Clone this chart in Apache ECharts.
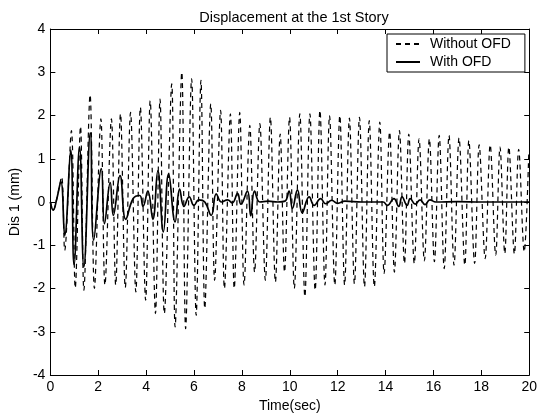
<!DOCTYPE html>
<html>
<head>
<meta charset="utf-8">
<script src="https://cdn.jsdelivr.net/npm/echarts@6/dist/echarts.min.js"></script>
<style>
  html, body { margin: 0; padding: 0; background: #fff; }
  #chart { width: 540px; height: 418px; }
</style>
</head>
<body>
<div id="chart"></div>
<script>
// ---- Data ----
const titleText = 'Displacement at the 1st Story';
const xTitle = 'Time(sec)';
const yTitle = 'Dis 1 (mm)';
const seriesNames = ['Without OFD', 'With OFD'];

// Without OFD (dashed): time (s) of successive peaks / troughs and their displacement (mm)
const timeWithout = [0, 0.12, 0.26, 0.47, 0.60, 0.88, 1.04, 1.26, 1.40, 1.66, 1.84, 2.11, 2.28, 2.55, 2.73, 2.93, 3.13, 3.35, 3.57, 3.76, 3.98, 4.17, 4.39, 4.58, 4.76, 5.07, 5.21, 5.49, 5.65, 5.90, 6.09, 6.29, 6.45, 6.70, 6.86, 7.11, 7.27, 7.52, 7.68, 7.91, 8.09, 8.33, 8.53, 8.75, 8.98, 9.19, 9.40, 9.60, 9.78, 9.99, 10.19, 10.42, 10.63, 10.84, 11.06, 11.26, 11.47, 11.66, 11.88, 12.09, 12.29, 12.49, 12.70, 12.91, 13.12, 13.32, 13.53, 13.76, 13.94, 14.17, 14.37, 14.58, 14.79, 14.97, 15.20, 15.40, 15.62, 15.83, 16.04, 16.24, 16.45, 16.65, 16.86, 17.07, 17.31, 17.48, 17.72, 17.91, 18.16, 18.37, 18.60, 18.78, 18.98, 19.15, 19.38, 19.56, 19.79, 19.98];
const dispWithout = [0, -0.19, 0.05, 0.58, -1.12, 1.65, -1.99, 1.75, -2.04, 2.48, -2.0, 1.92, -1.92, 1.92, -1.92, 2.04, -1.98, 2.07, -2.08, 2.19, -2.27, 2.34, -2.58, 2.38, -2.58, 2.73, -2.89, 3.0, -2.93, 2.85, -2.62, 2.81, -2.46, 2.27, -1.81, 2.12, -2.0, 2.04, -2.0, 2.07, -1.92, 1.77, -1.62, 1.81, -1.81, 1.96, -1.85, 1.57, -1.62, 1.96, -2.0, 2.04, -2.19, 2.04, -2.04, 2.12, -1.92, 2.0, -1.92, 2.0, -1.92, 1.94, -1.89, 1.96, -1.96, 1.88, -1.96, 1.85, -1.65, 1.62, -1.62, 1.65, -1.42, 1.57, -1.42, 1.46, -1.36, 1.46, -1.38, 1.54, -1.54, 1.54, -1.46, 1.48, -1.46, 1.42, -1.42, 1.32, -1.31, 1.32, -1.23, 1.27, -1.19, 1.27, -1.2, 1.22, -1.15, 1.1];

// With OFD (solid)
const timeWith = [0, 0.12, 0.26, 0.44, 0.60, 0.85, 0.99, 1.22, 1.40, 1.67, 1.81, 2.13, 2.26, 2.50, 2.63, 2.91, 3.15, 3.46, 3.73, 3.87, 4.07, 4.28, 4.49, 4.72, 4.94, 5.21, 5.40, 5.58, 5.80, 6.00, 6.20, 6.45, 6.72, 6.93, 7.15, 7.40, 7.60, 7.82, 7.96, 8.23, 8.37, 8.53, 8.75, 9.10, 9.50, 9.80, 9.97, 10.11, 10.32, 10.52, 10.81, 11.02, 11.29, 11.50, 11.75, 12.00, 12.30, 13.00, 13.90, 14.07, 14.35, 14.55, 14.69, 14.90, 15.03, 15.24, 15.44, 15.65, 15.85, 16.10, 17.00, 18.00, 19.00, 20.00];
const dispWith = [0, -0.19, 0.05, 0.47, -0.77, 1.2, -1.45, 1.27, -1.5, 1.6, -0.88, 0.77, -0.5, 0.45, -0.31, 0.61, -0.4, 0.08, 0.15, -0.1, 0.25, -0.4, 0.72, -0.69, 0.65, -0.46, 0.3, -0.1, 0.12, -0.08, 0.05, 0.0, -0.31, 0.19, 0.0, 0.05, -0.02, 0.2, -0.05, 0.25, -0.32, 0.25, 0.0, 0.02, 0.0, 0.02, 0.25, -0.15, 0.28, -0.25, 0.12, -0.08, 0.08, -0.04, 0.04, -0.03, 0.02, 0.0, 0.0, -0.08, 0.08, -0.1, 0.12, -0.08, 0.08, -0.05, 0.05, -0.06, 0.05, 0.0, 0.01, 0.0, 0.0, 0.0];

// Axis settings
const xMin = 0, xMax = 20, xStep = 2;
const yMin = -4, yMax = 4, yStep = 1;

// ---- Chart ----
const FONT = '"Liberation Sans", Arial, Helvetica, sans-serif';
const chart = echarts.init(document.getElementById('chart'), null, { renderer: 'canvas' });

function pairs(xs, ys) { return xs.map((x, i) => [x, ys[i]]); }

const axisCommon = {
  axisLine: { show: true, onZero: false, lineStyle: { color: '#000', width: 1 } },
  axisTick: { show: true, inside: true, length: 5, lineStyle: { color: '#000', width: 1 } },
  splitLine: { show: false }
};

const option = {
  backgroundColor: '#fff',
  animation: false,
  title: {
    text: titleText,
    left: 289,
    textAlign: 'center',
    top: 5,
    textStyle: { fontFamily: FONT, fontSize: 14.5, fontWeight: 'normal', color: '#000' }
  },
  legend: {
    data: seriesNames,
    orient: 'vertical',
    left: 387,
    top: 34,
    padding: [3, 14, 3, 8],
    itemGap: 4,
    itemWidth: 24,
    itemHeight: 14,
    backgroundColor: '#fff',
    borderColor: '#000',
    borderWidth: 1,
    borderRadius: 0,
    itemStyle: { opacity: 0, borderWidth: 0 },
    textStyle: { fontFamily: FONT, fontSize: 14, color: '#000', padding: [0, 0, 0, 5] }
  },
  grid: { left: 46, right: 8, top: 29, bottom: 41, containLabel: false },
  xAxis: [
    Object.assign({}, axisCommon, {
      type: 'value', min: xMin, max: xMax, interval: xStep, position: 'bottom',
      name: xTitle, nameLocation: 'middle', nameGap: 24,
      nameTextStyle: { fontFamily: FONT, fontSize: 14, color: '#000' },
      axisLabel: { fontFamily: FONT, fontSize: 14, color: '#000', margin: 5 }
    }),
    Object.assign({}, axisCommon, {
      type: 'value', min: xMin, max: xMax, interval: xStep, position: 'top',
      axisLabel: { show: false }
    })
  ],
  yAxis: [
    Object.assign({}, axisCommon, {
      type: 'value', min: yMin, max: yMax, interval: yStep, position: 'left',
      name: yTitle, nameLocation: 'middle', nameGap: 28,
      nameTextStyle: { fontFamily: FONT, fontSize: 14, color: '#000' },
      axisLabel: { fontFamily: FONT, fontSize: 14, color: '#000', margin: 5 }
    }),
    Object.assign({}, axisCommon, {
      type: 'value', min: yMin, max: yMax, interval: yStep, position: 'right',
      axisLabel: { show: false }
    })
  ],
  series: [
    {
      name: seriesNames[0],
      type: 'line',
      xAxisIndex: 0, yAxisIndex: 0,
      data: pairs(timeWithout, dispWithout),
      showSymbol: false, symbol: 'none',
      smooth: 0.35,
      lineStyle: { color: '#000', width: 1.2, type: [5, 4] },
      itemStyle: { color: '#000' },
      z: 2
    },
    {
      name: seriesNames[1],
      type: 'line',
      xAxisIndex: 0, yAxisIndex: 0,
      data: pairs(timeWith, dispWith),
      showSymbol: false, symbol: 'none',
      smooth: 0.45,
      lineStyle: { color: '#000', width: 1.7, type: 'solid' },
      itemStyle: { color: '#000' },
      z: 3
    }
  ]
};
chart.setOption(option);
</script>
</body>
</html>
